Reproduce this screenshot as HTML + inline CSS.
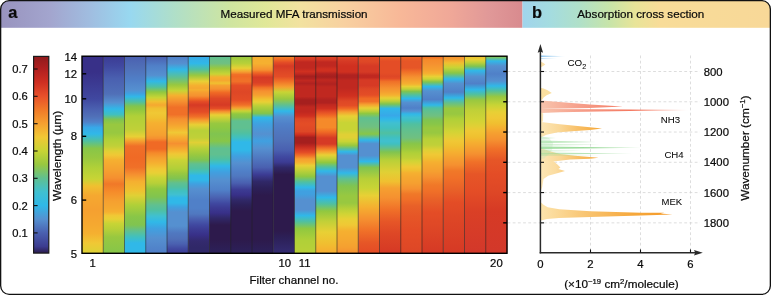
<!DOCTYPE html>
<html lang="en"><head><meta charset="utf-8"><title>Measured MFA transmission and absorption cross section</title>
<style>html,body{margin:0;padding:0;background:#fff}body{width:771px;height:295px;overflow:hidden}svg{display:block}text{font-family:"Liberation Sans",Arial,Helvetica,sans-serif;fill:#0a0a0a;stroke:#0a0a0a;stroke-width:0.22px}</style>
</head><body>
<svg width="771" height="295" viewBox="0 0 771 295">
<defs>
<linearGradient id="ha" gradientUnits="userSpaceOnUse" x1="0" y1="0" x2="523" y2="0">
<stop offset="0.0000" stop-color="#9893be"/>
<stop offset="0.0956" stop-color="#a3a5ce"/>
<stop offset="0.1721" stop-color="#a0bde0"/>
<stop offset="0.2486" stop-color="#98d8f0"/>
<stop offset="0.3346" stop-color="#b0dfc8"/>
<stop offset="0.4398" stop-color="#cfe5a0"/>
<stop offset="0.5067" stop-color="#e0e898"/>
<stop offset="0.5736" stop-color="#f2e2a0"/>
<stop offset="0.6597" stop-color="#f8d0a0"/>
<stop offset="0.7648" stop-color="#f8b898"/>
<stop offset="0.8604" stop-color="#f0a898"/>
<stop offset="0.9369" stop-color="#e09898"/>
<stop offset="1.0000" stop-color="#d88a8e"/>
</linearGradient>
<linearGradient id="hb" gradientUnits="userSpaceOnUse" x1="522.5" y1="0" x2="771" y2="0">
<stop offset="0.0000" stop-color="#a0d4ec"/>
<stop offset="0.1107" stop-color="#a4dce0"/>
<stop offset="0.2314" stop-color="#b0e0c8"/>
<stop offset="0.3521" stop-color="#c8e4a8"/>
<stop offset="0.4527" stop-color="#e8e498"/>
<stop offset="0.5533" stop-color="#f8dc98"/>
<stop offset="1.0000" stop-color="#f8d898"/>
</linearGradient>
<linearGradient id="cb" gradientUnits="userSpaceOnUse" x1="0" y1="56.0" x2="0" y2="253.3">
<stop offset="0.0000" stop-color="#8e1a1c"/>
<stop offset="0.0651" stop-color="#b02020"/>
<stop offset="0.1343" stop-color="#cf2f22"/>
<stop offset="0.2036" stop-color="#e8502a"/>
<stop offset="0.2729" stop-color="#f07a28"/>
<stop offset="0.3421" stop-color="#f5a030"/>
<stop offset="0.4114" stop-color="#f0c835"/>
<stop offset="0.4806" stop-color="#c8d435"/>
<stop offset="0.5499" stop-color="#98c840"/>
<stop offset="0.6191" stop-color="#60c090"/>
<stop offset="0.6884" stop-color="#40c0d0"/>
<stop offset="0.7576" stop-color="#30b8e8"/>
<stop offset="0.8269" stop-color="#5590d0"/>
<stop offset="0.8961" stop-color="#4a60b0"/>
<stop offset="0.9654" stop-color="#3c3c90"/>
<stop offset="1.0000" stop-color="#2a1a4a"/>
</linearGradient>
<linearGradient id="c1" gradientUnits="userSpaceOnUse" x1="0" y1="56.0" x2="0" y2="253.3">
<stop offset="0.0020" stop-color="#383088"/>
<stop offset="0.0811" stop-color="#383088"/>
<stop offset="0.1521" stop-color="#3c3c94"/>
<stop offset="0.2179" stop-color="#4048a0"/>
<stop offset="0.2686" stop-color="#4a60b0"/>
<stop offset="0.3066" stop-color="#5070b8"/>
<stop offset="0.3345" stop-color="#5080c8"/>
<stop offset="0.3624" stop-color="#38a8e8"/>
<stop offset="0.3953" stop-color="#30b8e8"/>
<stop offset="0.4308" stop-color="#50c0a0"/>
<stop offset="0.4683" stop-color="#88c648"/>
<stop offset="0.5170" stop-color="#98c840"/>
<stop offset="0.5646" stop-color="#b0d038"/>
<stop offset="0.6234" stop-color="#c8d435"/>
<stop offset="0.6589" stop-color="#f0c030"/>
<stop offset="0.7070" stop-color="#f5a830"/>
<stop offset="0.7790" stop-color="#f5a030"/>
<stop offset="0.8515" stop-color="#f5a830"/>
<stop offset="0.8991" stop-color="#f5b030"/>
<stop offset="0.9478" stop-color="#f0c835"/>
<stop offset="0.9883" stop-color="#e0d035"/>
</linearGradient>
<linearGradient id="c2" gradientUnits="userSpaceOnUse" x1="0" y1="56.0" x2="0" y2="253.3">
<stop offset="0.0020" stop-color="#3c3c94"/>
<stop offset="0.0502" stop-color="#4048a0"/>
<stop offset="0.1140" stop-color="#4a60b0"/>
<stop offset="0.1926" stop-color="#5070b8"/>
<stop offset="0.2357" stop-color="#5590d0"/>
<stop offset="0.2686" stop-color="#30b8e8"/>
<stop offset="0.2965" stop-color="#40c0c0"/>
<stop offset="0.3218" stop-color="#80c450"/>
<stop offset="0.3472" stop-color="#98c840"/>
<stop offset="0.3903" stop-color="#98c840"/>
<stop offset="0.4232" stop-color="#b0d038"/>
<stop offset="0.4562" stop-color="#c0d038"/>
<stop offset="0.4815" stop-color="#e0d035"/>
<stop offset="0.5018" stop-color="#f0c835"/>
<stop offset="0.5271" stop-color="#f5b030"/>
<stop offset="0.5778" stop-color="#f5a030"/>
<stop offset="0.6183" stop-color="#f59030"/>
<stop offset="0.6488" stop-color="#f07828"/>
<stop offset="0.6842" stop-color="#f58a2a"/>
<stop offset="0.7349" stop-color="#f5a030"/>
<stop offset="0.7704" stop-color="#f5a830"/>
<stop offset="0.7907" stop-color="#f5b030"/>
<stop offset="0.8084" stop-color="#f0c835"/>
<stop offset="0.8262" stop-color="#e8d035"/>
<stop offset="0.8490" stop-color="#c8d435"/>
<stop offset="0.8768" stop-color="#b8d038"/>
<stop offset="0.9174" stop-color="#98c840"/>
<stop offset="0.9883" stop-color="#88c648"/>
</linearGradient>
<linearGradient id="c3" gradientUnits="userSpaceOnUse" x1="0" y1="56.0" x2="0" y2="253.3">
<stop offset="0.0020" stop-color="#4a60b0"/>
<stop offset="0.0608" stop-color="#5070b8"/>
<stop offset="0.1216" stop-color="#5080c8"/>
<stop offset="0.1723" stop-color="#5590d0"/>
<stop offset="0.1901" stop-color="#40a0e0"/>
<stop offset="0.2063" stop-color="#30b8e8"/>
<stop offset="0.2331" stop-color="#50c0a0"/>
<stop offset="0.2534" stop-color="#80c450"/>
<stop offset="0.2712" stop-color="#90c840"/>
<stop offset="0.3041" stop-color="#b0d038"/>
<stop offset="0.3725" stop-color="#c0d038"/>
<stop offset="0.4085" stop-color="#e8d035"/>
<stop offset="0.4308" stop-color="#f5a030"/>
<stop offset="0.4562" stop-color="#f07028"/>
<stop offset="0.5170" stop-color="#f06a25"/>
<stop offset="0.5646" stop-color="#f07028"/>
<stop offset="0.6006" stop-color="#f59030"/>
<stop offset="0.6366" stop-color="#f5b030"/>
<stop offset="0.6792" stop-color="#f0c030"/>
<stop offset="0.7070" stop-color="#e0d035"/>
<stop offset="0.7552" stop-color="#b0d038"/>
<stop offset="0.8150" stop-color="#88c648"/>
<stop offset="0.8566" stop-color="#80c450"/>
<stop offset="0.8870" stop-color="#60c090"/>
<stop offset="0.9174" stop-color="#40c0c0"/>
<stop offset="0.9478" stop-color="#30b8e8"/>
<stop offset="0.9934" stop-color="#30b8e8"/>
</linearGradient>
<linearGradient id="c4" gradientUnits="userSpaceOnUse" x1="0" y1="56.0" x2="0" y2="253.3">
<stop offset="0.0020" stop-color="#4a60b0"/>
<stop offset="0.0502" stop-color="#5080c8"/>
<stop offset="0.0978" stop-color="#5590d0"/>
<stop offset="0.1282" stop-color="#30b8e8"/>
<stop offset="0.1571" stop-color="#50c0a0"/>
<stop offset="0.1825" stop-color="#90c840"/>
<stop offset="0.2103" stop-color="#c8d435"/>
<stop offset="0.2306" stop-color="#f0c030"/>
<stop offset="0.2484" stop-color="#f5a830"/>
<stop offset="0.2661" stop-color="#f0c030"/>
<stop offset="0.2889" stop-color="#f0c835"/>
<stop offset="0.3142" stop-color="#f0c030"/>
<stop offset="0.3396" stop-color="#f5b030"/>
<stop offset="0.3725" stop-color="#f5a830"/>
<stop offset="0.4004" stop-color="#f5a030"/>
<stop offset="0.4181" stop-color="#f59030"/>
<stop offset="0.4359" stop-color="#f06a25"/>
<stop offset="0.4714" stop-color="#f06a25"/>
<stop offset="0.4916" stop-color="#f58a2a"/>
<stop offset="0.5170" stop-color="#f5a030"/>
<stop offset="0.5423" stop-color="#f5b030"/>
<stop offset="0.5727" stop-color="#f0c835"/>
<stop offset="0.5930" stop-color="#e8d035"/>
<stop offset="0.6183" stop-color="#c8d435"/>
<stop offset="0.6437" stop-color="#b8d038"/>
<stop offset="0.6741" stop-color="#90c840"/>
<stop offset="0.7146" stop-color="#80c450"/>
<stop offset="0.7552" stop-color="#60c090"/>
<stop offset="0.7805" stop-color="#50c0a0"/>
<stop offset="0.8109" stop-color="#40c0d0"/>
<stop offset="0.8414" stop-color="#30b8e8"/>
<stop offset="0.8753" stop-color="#40a0e0"/>
<stop offset="0.9225" stop-color="#5590d0"/>
<stop offset="0.9883" stop-color="#5080c8"/>
</linearGradient>
<linearGradient id="c5" gradientUnits="userSpaceOnUse" x1="0" y1="56.0" x2="0" y2="253.3">
<stop offset="0.0020" stop-color="#5080c8"/>
<stop offset="0.0380" stop-color="#5590d0"/>
<stop offset="0.0679" stop-color="#30b8e8"/>
<stop offset="0.1100" stop-color="#60c090"/>
<stop offset="0.1460" stop-color="#98c840"/>
<stop offset="0.1759" stop-color="#c8d435"/>
<stop offset="0.2002" stop-color="#f5b030"/>
<stop offset="0.2301" stop-color="#f59030"/>
<stop offset="0.2600" stop-color="#f07028"/>
<stop offset="0.2965" stop-color="#f07028"/>
<stop offset="0.3193" stop-color="#f59030"/>
<stop offset="0.3447" stop-color="#f5a030"/>
<stop offset="0.3649" stop-color="#f5b030"/>
<stop offset="0.3877" stop-color="#f0c835"/>
<stop offset="0.4105" stop-color="#f5b030"/>
<stop offset="0.4283" stop-color="#f5a030"/>
<stop offset="0.4435" stop-color="#f59030"/>
<stop offset="0.4612" stop-color="#f5a030"/>
<stop offset="0.4764" stop-color="#f5b030"/>
<stop offset="0.4967" stop-color="#f0c835"/>
<stop offset="0.5144" stop-color="#e0d035"/>
<stop offset="0.5297" stop-color="#c8d435"/>
<stop offset="0.5474" stop-color="#c0d038"/>
<stop offset="0.5727" stop-color="#b0d038"/>
<stop offset="0.5955" stop-color="#98c840"/>
<stop offset="0.6209" stop-color="#80c450"/>
<stop offset="0.6437" stop-color="#60c090"/>
<stop offset="0.6640" stop-color="#50c0a0"/>
<stop offset="0.6842" stop-color="#40c0c0"/>
<stop offset="0.7020" stop-color="#40c0d0"/>
<stop offset="0.7197" stop-color="#30b8e8"/>
<stop offset="0.7451" stop-color="#30b8e8"/>
<stop offset="0.7653" stop-color="#40a0e0"/>
<stop offset="0.7907" stop-color="#5590d0"/>
<stop offset="0.8616" stop-color="#5590d0"/>
<stop offset="0.8971" stop-color="#5078c0"/>
<stop offset="0.9275" stop-color="#5070b8"/>
<stop offset="0.9529" stop-color="#4a60b0"/>
<stop offset="0.9782" stop-color="#4048a0"/>
<stop offset="1.0000" stop-color="#3c3c94"/>
</linearGradient>
<linearGradient id="c6" gradientUnits="userSpaceOnUse" x1="0" y1="56.0" x2="0" y2="253.3">
<stop offset="0.0020" stop-color="#38a8e8"/>
<stop offset="0.0380" stop-color="#30b8e8"/>
<stop offset="0.0679" stop-color="#50c0a0"/>
<stop offset="0.0978" stop-color="#98c840"/>
<stop offset="0.1282" stop-color="#e8d035"/>
<stop offset="0.1495" stop-color="#f5b030"/>
<stop offset="0.1637" stop-color="#f5a830"/>
<stop offset="0.1713" stop-color="#f5b030"/>
<stop offset="0.1825" stop-color="#f5a030"/>
<stop offset="0.2027" stop-color="#f59030"/>
<stop offset="0.2179" stop-color="#f06a25"/>
<stop offset="0.2306" stop-color="#e44d26"/>
<stop offset="0.2484" stop-color="#d63a25"/>
<stop offset="0.2686" stop-color="#de4726"/>
<stop offset="0.2838" stop-color="#e44d26"/>
<stop offset="0.3082" stop-color="#f07028"/>
<stop offset="0.3269" stop-color="#f5a030"/>
<stop offset="0.3482" stop-color="#e8d035"/>
<stop offset="0.3786" stop-color="#b8d038"/>
<stop offset="0.4146" stop-color="#c0d038"/>
<stop offset="0.4384" stop-color="#e0d035"/>
<stop offset="0.4683" stop-color="#b8d038"/>
<stop offset="0.5018" stop-color="#98c840"/>
<stop offset="0.5271" stop-color="#80c450"/>
<stop offset="0.5474" stop-color="#60c090"/>
<stop offset="0.5702" stop-color="#50c0a0"/>
<stop offset="0.5879" stop-color="#40c0c0"/>
<stop offset="0.6057" stop-color="#30b8e8"/>
<stop offset="0.6285" stop-color="#30b8e8"/>
<stop offset="0.6488" stop-color="#40a0e0"/>
<stop offset="0.6741" stop-color="#5590d0"/>
<stop offset="0.7299" stop-color="#5080c8"/>
<stop offset="0.7704" stop-color="#5080c8"/>
<stop offset="0.8008" stop-color="#5078c0"/>
<stop offset="0.8262" stop-color="#4a60b0"/>
<stop offset="0.8566" stop-color="#4048a0"/>
<stop offset="0.8794" stop-color="#3c3c94"/>
<stop offset="0.9072" stop-color="#383088"/>
<stop offset="0.9377" stop-color="#332a6e"/>
<stop offset="0.9681" stop-color="#302868"/>
<stop offset="1.0000" stop-color="#302868"/>
</linearGradient>
<linearGradient id="c7" gradientUnits="userSpaceOnUse" x1="0" y1="56.0" x2="0" y2="253.3">
<stop offset="0.0020" stop-color="#60c090"/>
<stop offset="0.0380" stop-color="#70c080"/>
<stop offset="0.0618" stop-color="#98c840"/>
<stop offset="0.0912" stop-color="#c8d435"/>
<stop offset="0.1075" stop-color="#f5b030"/>
<stop offset="0.1242" stop-color="#f5a830"/>
<stop offset="0.1379" stop-color="#f0c030"/>
<stop offset="0.1495" stop-color="#f5a030"/>
<stop offset="0.1673" stop-color="#f59030"/>
<stop offset="0.1850" stop-color="#f06a25"/>
<stop offset="0.2154" stop-color="#de4726"/>
<stop offset="0.2484" stop-color="#d63a25"/>
<stop offset="0.2661" stop-color="#e44d26"/>
<stop offset="0.2813" stop-color="#f59030"/>
<stop offset="0.2990" stop-color="#e8d035"/>
<stop offset="0.3193" stop-color="#c0d038"/>
<stop offset="0.3421" stop-color="#98c840"/>
<stop offset="0.3599" stop-color="#90c840"/>
<stop offset="0.3953" stop-color="#80c450"/>
<stop offset="0.4308" stop-color="#88c648"/>
<stop offset="0.4683" stop-color="#60c090"/>
<stop offset="0.4992" stop-color="#60c090"/>
<stop offset="0.5220" stop-color="#50c0a0"/>
<stop offset="0.5373" stop-color="#40c0c0"/>
<stop offset="0.5575" stop-color="#30b8e8"/>
<stop offset="0.5879" stop-color="#40a0e0"/>
<stop offset="0.6285" stop-color="#5590d0"/>
<stop offset="0.6792" stop-color="#5080c8"/>
<stop offset="0.7197" stop-color="#4a60b0"/>
<stop offset="0.7476" stop-color="#4048a0"/>
<stop offset="0.7679" stop-color="#3c3c94"/>
<stop offset="0.7957" stop-color="#383088"/>
<stop offset="0.8211" stop-color="#302868"/>
<stop offset="0.8566" stop-color="#2d1a4c"/>
<stop offset="0.9326" stop-color="#2d1a4c"/>
<stop offset="0.9883" stop-color="#2c2058"/>
</linearGradient>
<linearGradient id="c8" gradientUnits="userSpaceOnUse" x1="0" y1="56.0" x2="0" y2="253.3">
<stop offset="0.0020" stop-color="#98c840"/>
<stop offset="0.0380" stop-color="#b8d038"/>
<stop offset="0.0618" stop-color="#e8d035"/>
<stop offset="0.0801" stop-color="#f5a030"/>
<stop offset="0.0938" stop-color="#f07028"/>
<stop offset="0.1039" stop-color="#f06a25"/>
<stop offset="0.1166" stop-color="#f07028"/>
<stop offset="0.1292" stop-color="#f07028"/>
<stop offset="0.1495" stop-color="#e44d26"/>
<stop offset="0.1825" stop-color="#de4726"/>
<stop offset="0.2230" stop-color="#e44d26"/>
<stop offset="0.2484" stop-color="#f07028"/>
<stop offset="0.2636" stop-color="#f5a030"/>
<stop offset="0.2788" stop-color="#c8d435"/>
<stop offset="0.2940" stop-color="#90c840"/>
<stop offset="0.3117" stop-color="#80c450"/>
<stop offset="0.3294" stop-color="#60c090"/>
<stop offset="0.3649" stop-color="#60c090"/>
<stop offset="0.3903" stop-color="#50c0a0"/>
<stop offset="0.4131" stop-color="#40c0c0"/>
<stop offset="0.4359" stop-color="#30b8e8"/>
<stop offset="0.4764" stop-color="#30b8e8"/>
<stop offset="0.5068" stop-color="#40a0e0"/>
<stop offset="0.5423" stop-color="#5590d0"/>
<stop offset="0.5829" stop-color="#5080c8"/>
<stop offset="0.6082" stop-color="#5078c0"/>
<stop offset="0.6437" stop-color="#4a60b0"/>
<stop offset="0.6766" stop-color="#3c3c94"/>
<stop offset="0.7045" stop-color="#383088"/>
<stop offset="0.7299" stop-color="#302868"/>
<stop offset="0.7552" stop-color="#2c2058"/>
<stop offset="0.7856" stop-color="#2d1a4c"/>
<stop offset="0.9326" stop-color="#2d1a4c"/>
<stop offset="0.9883" stop-color="#2c2058"/>
</linearGradient>
<linearGradient id="c9" gradientUnits="userSpaceOnUse" x1="0" y1="56.0" x2="0" y2="253.3">
<stop offset="0.0020" stop-color="#f5b030"/>
<stop offset="0.0380" stop-color="#f5b030"/>
<stop offset="0.0558" stop-color="#f5a030"/>
<stop offset="0.0710" stop-color="#f59030"/>
<stop offset="0.0836" stop-color="#f06a25"/>
<stop offset="0.0963" stop-color="#e44d26"/>
<stop offset="0.1075" stop-color="#d63a25"/>
<stop offset="0.1343" stop-color="#da4026"/>
<stop offset="0.1470" stop-color="#e44d26"/>
<stop offset="0.1597" stop-color="#f07028"/>
<stop offset="0.1774" stop-color="#f59030"/>
<stop offset="0.1977" stop-color="#f5a030"/>
<stop offset="0.2179" stop-color="#f0c030"/>
<stop offset="0.2331" stop-color="#e8d035"/>
<stop offset="0.2534" stop-color="#b8d038"/>
<stop offset="0.2762" stop-color="#98c840"/>
<stop offset="0.2914" stop-color="#80c450"/>
<stop offset="0.3117" stop-color="#30b8e8"/>
<stop offset="0.3447" stop-color="#40a0e0"/>
<stop offset="0.3953" stop-color="#5590d0"/>
<stop offset="0.4308" stop-color="#40a0e0"/>
<stop offset="0.4683" stop-color="#5590d0"/>
<stop offset="0.5170" stop-color="#5078c0"/>
<stop offset="0.5646" stop-color="#4a60b0"/>
<stop offset="0.6006" stop-color="#3c3c94"/>
<stop offset="0.6366" stop-color="#302868"/>
<stop offset="0.6690" stop-color="#2c2058"/>
<stop offset="0.7070" stop-color="#2d1a4c"/>
<stop offset="0.9326" stop-color="#2d1a4c"/>
<stop offset="0.9883" stop-color="#2c2058"/>
</linearGradient>
<linearGradient id="c10" gradientUnits="userSpaceOnUse" x1="0" y1="56.0" x2="0" y2="253.3">
<stop offset="0.0020" stop-color="#f58a2a"/>
<stop offset="0.0177" stop-color="#f06a25"/>
<stop offset="0.0329" stop-color="#e44d26"/>
<stop offset="0.0507" stop-color="#d63a25"/>
<stop offset="0.0801" stop-color="#de4726"/>
<stop offset="0.1039" stop-color="#e44d26"/>
<stop offset="0.1282" stop-color="#f07028"/>
<stop offset="0.1571" stop-color="#f5a030"/>
<stop offset="0.1825" stop-color="#c8d435"/>
<stop offset="0.2179" stop-color="#98c840"/>
<stop offset="0.2484" stop-color="#60c090"/>
<stop offset="0.2788" stop-color="#30b8e8"/>
<stop offset="0.3082" stop-color="#5590d0"/>
<stop offset="0.3447" stop-color="#5080c8"/>
<stop offset="0.3801" stop-color="#5078c0"/>
<stop offset="0.4257" stop-color="#5070b8"/>
<stop offset="0.4764" stop-color="#4a60b0"/>
<stop offset="0.5119" stop-color="#4048a0"/>
<stop offset="0.5373" stop-color="#3c3c94"/>
<stop offset="0.5646" stop-color="#302868"/>
<stop offset="0.6006" stop-color="#2d1a4c"/>
<stop offset="0.8870" stop-color="#2d1a4c"/>
<stop offset="0.9225" stop-color="#2c2058"/>
<stop offset="0.9883" stop-color="#332a6e"/>
</linearGradient>
<linearGradient id="c11" gradientUnits="userSpaceOnUse" x1="0" y1="56.0" x2="0" y2="253.3">
<stop offset="0.0020" stop-color="#de4726"/>
<stop offset="0.0177" stop-color="#d63a25"/>
<stop offset="0.0304" stop-color="#c02820"/>
<stop offset="0.0608" stop-color="#c02820"/>
<stop offset="0.0786" stop-color="#d03020"/>
<stop offset="0.0912" stop-color="#c02820"/>
<stop offset="0.1029" stop-color="#a51f1e"/>
<stop offset="0.1140" stop-color="#b02220"/>
<stop offset="0.1242" stop-color="#c02820"/>
<stop offset="0.1394" stop-color="#b02220"/>
<stop offset="0.1546" stop-color="#c02820"/>
<stop offset="0.2053" stop-color="#c02820"/>
<stop offset="0.2230" stop-color="#a51f1e"/>
<stop offset="0.2423" stop-color="#a51f1e"/>
<stop offset="0.2585" stop-color="#c02820"/>
<stop offset="0.2838" stop-color="#c02820"/>
<stop offset="0.3041" stop-color="#d03020"/>
<stop offset="0.3193" stop-color="#de4726"/>
<stop offset="0.3447" stop-color="#e44d26"/>
<stop offset="0.3827" stop-color="#de4726"/>
<stop offset="0.3979" stop-color="#d03020"/>
<stop offset="0.4131" stop-color="#a51f1e"/>
<stop offset="0.4410" stop-color="#a51f1e"/>
<stop offset="0.4562" stop-color="#c02820"/>
<stop offset="0.4739" stop-color="#d63a25"/>
<stop offset="0.4891" stop-color="#e44d26"/>
<stop offset="0.5043" stop-color="#f07028"/>
<stop offset="0.5220" stop-color="#f5a030"/>
<stop offset="0.5388" stop-color="#f5b030"/>
<stop offset="0.5555" stop-color="#e8d035"/>
<stop offset="0.5793" stop-color="#c0d038"/>
<stop offset="0.6102" stop-color="#90c840"/>
<stop offset="0.6381" stop-color="#50c0a0"/>
<stop offset="0.6655" stop-color="#30b8e8"/>
<stop offset="0.6842" stop-color="#40a0e0"/>
<stop offset="0.6994" stop-color="#40a0e0"/>
<stop offset="0.7299" stop-color="#5590d0"/>
<stop offset="0.7790" stop-color="#5590d0"/>
<stop offset="0.8089" stop-color="#30b8e8"/>
<stop offset="0.8393" stop-color="#50c0a0"/>
<stop offset="0.8753" stop-color="#90c840"/>
<stop offset="0.9351" stop-color="#b0d038"/>
<stop offset="0.9883" stop-color="#b8d038"/>
</linearGradient>
<linearGradient id="c12" gradientUnits="userSpaceOnUse" x1="0" y1="56.0" x2="0" y2="253.3">
<stop offset="0.0020" stop-color="#de4726"/>
<stop offset="0.0177" stop-color="#d63a25"/>
<stop offset="0.0304" stop-color="#c02820"/>
<stop offset="0.0507" stop-color="#c02820"/>
<stop offset="0.0659" stop-color="#d03020"/>
<stop offset="0.0760" stop-color="#d03020"/>
<stop offset="0.0912" stop-color="#b02220"/>
<stop offset="0.1064" stop-color="#a51f1e"/>
<stop offset="0.1216" stop-color="#c02820"/>
<stop offset="0.1419" stop-color="#b02220"/>
<stop offset="0.1571" stop-color="#c02820"/>
<stop offset="0.2053" stop-color="#c02820"/>
<stop offset="0.2230" stop-color="#b02220"/>
<stop offset="0.2382" stop-color="#b02220"/>
<stop offset="0.2458" stop-color="#c02820"/>
<stop offset="0.2661" stop-color="#d03020"/>
<stop offset="0.2838" stop-color="#e44d26"/>
<stop offset="0.3016" stop-color="#f06a25"/>
<stop offset="0.3193" stop-color="#f58a2a"/>
<stop offset="0.3624" stop-color="#f58a2a"/>
<stop offset="0.3852" stop-color="#f06a25"/>
<stop offset="0.4156" stop-color="#d63a25"/>
<stop offset="0.4460" stop-color="#d63a25"/>
<stop offset="0.4663" stop-color="#f07028"/>
<stop offset="0.4840" stop-color="#f5a030"/>
<stop offset="0.5018" stop-color="#e8d035"/>
<stop offset="0.5195" stop-color="#c0d038"/>
<stop offset="0.5398" stop-color="#90c840"/>
<stop offset="0.5626" stop-color="#50c0a0"/>
<stop offset="0.5829" stop-color="#30b8e8"/>
<stop offset="0.6107" stop-color="#5590d0"/>
<stop offset="0.6842" stop-color="#5590d0"/>
<stop offset="0.7172" stop-color="#30b8e8"/>
<stop offset="0.7501" stop-color="#50c0a0"/>
<stop offset="0.7856" stop-color="#90c840"/>
<stop offset="0.8363" stop-color="#c0d038"/>
<stop offset="0.8920" stop-color="#e8d035"/>
<stop offset="0.9478" stop-color="#f0c030"/>
<stop offset="0.9883" stop-color="#f5b030"/>
</linearGradient>
<linearGradient id="c13" gradientUnits="userSpaceOnUse" x1="0" y1="56.0" x2="0" y2="253.3">
<stop offset="0.0020" stop-color="#e44d26"/>
<stop offset="0.0253" stop-color="#d63a25"/>
<stop offset="0.0507" stop-color="#d03020"/>
<stop offset="0.0811" stop-color="#d03020"/>
<stop offset="0.0963" stop-color="#b02220"/>
<stop offset="0.1090" stop-color="#b02220"/>
<stop offset="0.1242" stop-color="#c02820"/>
<stop offset="0.1622" stop-color="#c02820"/>
<stop offset="0.2027" stop-color="#d03020"/>
<stop offset="0.2281" stop-color="#de4726"/>
<stop offset="0.2509" stop-color="#e44d26"/>
<stop offset="0.2661" stop-color="#f06a25"/>
<stop offset="0.2838" stop-color="#f5a030"/>
<stop offset="0.3041" stop-color="#e8d035"/>
<stop offset="0.3381" stop-color="#c8d435"/>
<stop offset="0.3751" stop-color="#c8d435"/>
<stop offset="0.3979" stop-color="#e0d035"/>
<stop offset="0.4131" stop-color="#e0d035"/>
<stop offset="0.4334" stop-color="#c8d435"/>
<stop offset="0.4536" stop-color="#98c840"/>
<stop offset="0.4688" stop-color="#60c090"/>
<stop offset="0.4850" stop-color="#30b8e8"/>
<stop offset="0.5043" stop-color="#5590d0"/>
<stop offset="0.5646" stop-color="#5590d0"/>
<stop offset="0.5930" stop-color="#30b8e8"/>
<stop offset="0.6234" stop-color="#60c090"/>
<stop offset="0.6589" stop-color="#80c450"/>
<stop offset="0.7096" stop-color="#98c840"/>
<stop offset="0.7451" stop-color="#98c840"/>
<stop offset="0.7755" stop-color="#b8d038"/>
<stop offset="0.8008" stop-color="#d0d435"/>
<stop offset="0.8262" stop-color="#e8d035"/>
<stop offset="0.8566" stop-color="#f0c835"/>
<stop offset="0.8870" stop-color="#f5b030"/>
<stop offset="0.9326" stop-color="#f5a830"/>
<stop offset="0.9681" stop-color="#f5a030"/>
<stop offset="1.0000" stop-color="#f59030"/>
</linearGradient>
<linearGradient id="c14" gradientUnits="userSpaceOnUse" x1="0" y1="56.0" x2="0" y2="253.3">
<stop offset="0.0020" stop-color="#e44d26"/>
<stop offset="0.0304" stop-color="#de4726"/>
<stop offset="0.0507" stop-color="#d63a25"/>
<stop offset="0.0811" stop-color="#d63a25"/>
<stop offset="0.0978" stop-color="#c02820"/>
<stop offset="0.1085" stop-color="#c02820"/>
<stop offset="0.1216" stop-color="#d63a25"/>
<stop offset="0.1495" stop-color="#d63a25"/>
<stop offset="0.1673" stop-color="#de4726"/>
<stop offset="0.1977" stop-color="#e44d26"/>
<stop offset="0.2154" stop-color="#f06a25"/>
<stop offset="0.2306" stop-color="#f07028"/>
<stop offset="0.2458" stop-color="#f5a030"/>
<stop offset="0.2636" stop-color="#e8d035"/>
<stop offset="0.2788" stop-color="#c0d038"/>
<stop offset="0.2914" stop-color="#90c840"/>
<stop offset="0.3142" stop-color="#60c090"/>
<stop offset="0.3599" stop-color="#70c080"/>
<stop offset="0.3953" stop-color="#88c648"/>
<stop offset="0.4257" stop-color="#30b8e8"/>
<stop offset="0.4445" stop-color="#5590d0"/>
<stop offset="0.5043" stop-color="#5590d0"/>
<stop offset="0.5347" stop-color="#30b8e8"/>
<stop offset="0.5646" stop-color="#80c450"/>
<stop offset="0.6234" stop-color="#b8d038"/>
<stop offset="0.6690" stop-color="#c8d435"/>
<stop offset="0.7070" stop-color="#e8d035"/>
<stop offset="0.7653" stop-color="#f5b030"/>
<stop offset="0.8262" stop-color="#f59030"/>
<stop offset="0.8870" stop-color="#f07028"/>
<stop offset="0.9478" stop-color="#e65627"/>
<stop offset="0.9883" stop-color="#e44d26"/>
</linearGradient>
<linearGradient id="c15" gradientUnits="userSpaceOnUse" x1="0" y1="56.0" x2="0" y2="253.3">
<stop offset="0.0020" stop-color="#f06a25"/>
<stop offset="0.0253" stop-color="#e44d26"/>
<stop offset="0.0862" stop-color="#e44d26"/>
<stop offset="0.1029" stop-color="#de4726"/>
<stop offset="0.1140" stop-color="#e44d26"/>
<stop offset="0.1292" stop-color="#f07028"/>
<stop offset="0.1622" stop-color="#f59030"/>
<stop offset="0.1825" stop-color="#f5a030"/>
<stop offset="0.1977" stop-color="#f5b030"/>
<stop offset="0.2129" stop-color="#e8d035"/>
<stop offset="0.2281" stop-color="#c0d038"/>
<stop offset="0.2433" stop-color="#80c450"/>
<stop offset="0.2661" stop-color="#30b8e8"/>
<stop offset="0.3021" stop-color="#38a8e8"/>
<stop offset="0.3193" stop-color="#30b8e8"/>
<stop offset="0.3396" stop-color="#40c0d0"/>
<stop offset="0.3649" stop-color="#40c0c0"/>
<stop offset="0.3903" stop-color="#50c0a0"/>
<stop offset="0.4131" stop-color="#40c0c0"/>
<stop offset="0.4308" stop-color="#40c0d0"/>
<stop offset="0.4460" stop-color="#40c0c0"/>
<stop offset="0.4663" stop-color="#60c090"/>
<stop offset="0.4866" stop-color="#80c450"/>
<stop offset="0.5271" stop-color="#b8d038"/>
<stop offset="0.5879" stop-color="#e0d035"/>
<stop offset="0.6366" stop-color="#f0c030"/>
<stop offset="0.6690" stop-color="#f5a030"/>
<stop offset="0.7197" stop-color="#f59030"/>
<stop offset="0.7790" stop-color="#f07028"/>
<stop offset="0.8393" stop-color="#e65627"/>
<stop offset="0.8991" stop-color="#de4726"/>
<stop offset="0.9883" stop-color="#d63a25"/>
</linearGradient>
<linearGradient id="c16" gradientUnits="userSpaceOnUse" x1="0" y1="56.0" x2="0" y2="253.3">
<stop offset="0.0020" stop-color="#f06a25"/>
<stop offset="0.0253" stop-color="#e65627"/>
<stop offset="0.0608" stop-color="#e65627"/>
<stop offset="0.0811" stop-color="#f07028"/>
<stop offset="0.1064" stop-color="#f59030"/>
<stop offset="0.1242" stop-color="#f5a030"/>
<stop offset="0.1419" stop-color="#f5b030"/>
<stop offset="0.1546" stop-color="#e8d035"/>
<stop offset="0.1673" stop-color="#c0d038"/>
<stop offset="0.1799" stop-color="#80c450"/>
<stop offset="0.1977" stop-color="#50c0a0"/>
<stop offset="0.2154" stop-color="#30b8e8"/>
<stop offset="0.2357" stop-color="#5590d0"/>
<stop offset="0.2636" stop-color="#5080c8"/>
<stop offset="0.2788" stop-color="#5590d0"/>
<stop offset="0.2940" stop-color="#30b8e8"/>
<stop offset="0.3117" stop-color="#40c0d0"/>
<stop offset="0.3269" stop-color="#40c0c0"/>
<stop offset="0.3447" stop-color="#50c0a0"/>
<stop offset="0.3725" stop-color="#60c090"/>
<stop offset="0.4156" stop-color="#70c080"/>
<stop offset="0.4445" stop-color="#88c648"/>
<stop offset="0.4663" stop-color="#98c840"/>
<stop offset="0.4916" stop-color="#b0d038"/>
<stop offset="0.5170" stop-color="#c0d038"/>
<stop offset="0.5322" stop-color="#d0d435"/>
<stop offset="0.5474" stop-color="#e0d035"/>
<stop offset="0.5626" stop-color="#f0c835"/>
<stop offset="0.5778" stop-color="#f0c030"/>
<stop offset="0.5930" stop-color="#f5b030"/>
<stop offset="0.6133" stop-color="#f5a830"/>
<stop offset="0.6437" stop-color="#f5a030"/>
<stop offset="0.6741" stop-color="#f59030"/>
<stop offset="0.6994" stop-color="#f07828"/>
<stop offset="0.7248" stop-color="#f07028"/>
<stop offset="0.7603" stop-color="#e86028"/>
<stop offset="0.8109" stop-color="#e65627"/>
<stop offset="0.8819" stop-color="#e44d26"/>
<stop offset="0.9883" stop-color="#de4726"/>
</linearGradient>
<linearGradient id="c17" gradientUnits="userSpaceOnUse" x1="0" y1="56.0" x2="0" y2="253.3">
<stop offset="0.0020" stop-color="#f06a25"/>
<stop offset="0.0177" stop-color="#f58a2a"/>
<stop offset="0.0380" stop-color="#f59030"/>
<stop offset="0.0710" stop-color="#f5a030"/>
<stop offset="0.0887" stop-color="#f5b030"/>
<stop offset="0.1039" stop-color="#e8d035"/>
<stop offset="0.1166" stop-color="#c8d435"/>
<stop offset="0.1318" stop-color="#80c450"/>
<stop offset="0.1546" stop-color="#30b8e8"/>
<stop offset="0.1774" stop-color="#5590d0"/>
<stop offset="0.2205" stop-color="#5080c8"/>
<stop offset="0.2484" stop-color="#30b8e8"/>
<stop offset="0.2636" stop-color="#50c0a0"/>
<stop offset="0.2788" stop-color="#60c090"/>
<stop offset="0.3041" stop-color="#70c080"/>
<stop offset="0.3244" stop-color="#80c450"/>
<stop offset="0.3447" stop-color="#88c648"/>
<stop offset="0.3649" stop-color="#98c840"/>
<stop offset="0.3903" stop-color="#98c840"/>
<stop offset="0.4207" stop-color="#b8d038"/>
<stop offset="0.4511" stop-color="#c0d038"/>
<stop offset="0.4764" stop-color="#e0d035"/>
<stop offset="0.4992" stop-color="#f0c835"/>
<stop offset="0.5170" stop-color="#f0c030"/>
<stop offset="0.5373" stop-color="#f5b030"/>
<stop offset="0.5575" stop-color="#f5a830"/>
<stop offset="0.5829" stop-color="#f5a030"/>
<stop offset="0.6133" stop-color="#f59030"/>
<stop offset="0.6538" stop-color="#f07828"/>
<stop offset="0.6842" stop-color="#f07028"/>
<stop offset="0.7299" stop-color="#e86028"/>
<stop offset="0.7907" stop-color="#e44d26"/>
<stop offset="0.8718" stop-color="#de4726"/>
<stop offset="0.9883" stop-color="#d63a25"/>
</linearGradient>
<linearGradient id="c18" gradientUnits="userSpaceOnUse" x1="0" y1="56.0" x2="0" y2="253.3">
<stop offset="0.0020" stop-color="#f59030"/>
<stop offset="0.0177" stop-color="#f5a030"/>
<stop offset="0.0355" stop-color="#f0c030"/>
<stop offset="0.0583" stop-color="#c8d435"/>
<stop offset="0.0862" stop-color="#88c648"/>
<stop offset="0.1166" stop-color="#30b8e8"/>
<stop offset="0.1399" stop-color="#5590d0"/>
<stop offset="0.1825" stop-color="#5080c8"/>
<stop offset="0.2124" stop-color="#30b8e8"/>
<stop offset="0.2362" stop-color="#60c090"/>
<stop offset="0.2661" stop-color="#98c840"/>
<stop offset="0.2940" stop-color="#98c840"/>
<stop offset="0.3193" stop-color="#b0d038"/>
<stop offset="0.3548" stop-color="#c0d038"/>
<stop offset="0.3801" stop-color="#d0d435"/>
<stop offset="0.4055" stop-color="#e0d035"/>
<stop offset="0.4308" stop-color="#f0c835"/>
<stop offset="0.4562" stop-color="#f0c030"/>
<stop offset="0.4866" stop-color="#f5b030"/>
<stop offset="0.5170" stop-color="#f5a030"/>
<stop offset="0.5525" stop-color="#f59030"/>
<stop offset="0.5829" stop-color="#f07828"/>
<stop offset="0.6183" stop-color="#f07028"/>
<stop offset="0.6792" stop-color="#e86028"/>
<stop offset="0.7400" stop-color="#e44d26"/>
<stop offset="0.8109" stop-color="#de4726"/>
<stop offset="0.9883" stop-color="#d63a25"/>
</linearGradient>
<linearGradient id="c19" gradientUnits="userSpaceOnUse" x1="0" y1="56.0" x2="0" y2="253.3">
<stop offset="0.0020" stop-color="#f0c030"/>
<stop offset="0.0177" stop-color="#e8d035"/>
<stop offset="0.0329" stop-color="#c0d038"/>
<stop offset="0.0522" stop-color="#80c450"/>
<stop offset="0.0740" stop-color="#30b8e8"/>
<stop offset="0.1039" stop-color="#5590d0"/>
<stop offset="0.1399" stop-color="#5080c8"/>
<stop offset="0.1703" stop-color="#30b8e8"/>
<stop offset="0.1941" stop-color="#50c0a0"/>
<stop offset="0.2230" stop-color="#98c840"/>
<stop offset="0.2737" stop-color="#c0d038"/>
<stop offset="0.3244" stop-color="#d0d435"/>
<stop offset="0.3548" stop-color="#e0d035"/>
<stop offset="0.3801" stop-color="#f0c835"/>
<stop offset="0.4105" stop-color="#f0c030"/>
<stop offset="0.4359" stop-color="#f5b030"/>
<stop offset="0.4663" stop-color="#f5a030"/>
<stop offset="0.4967" stop-color="#f59030"/>
<stop offset="0.5373" stop-color="#f07028"/>
<stop offset="0.5981" stop-color="#e65627"/>
<stop offset="0.6893" stop-color="#e44d26"/>
<stop offset="0.7856" stop-color="#da4026"/>
<stop offset="0.9883" stop-color="#d3382a"/>
</linearGradient>
<linearGradient id="c20" gradientUnits="userSpaceOnUse" x1="0" y1="56.0" x2="0" y2="253.3">
<stop offset="0.0020" stop-color="#90c840"/>
<stop offset="0.0253" stop-color="#30b8e8"/>
<stop offset="0.0502" stop-color="#5590d0"/>
<stop offset="0.0912" stop-color="#5080c8"/>
<stop offset="0.1267" stop-color="#5590d0"/>
<stop offset="0.1521" stop-color="#30b8e8"/>
<stop offset="0.1759" stop-color="#50c0a0"/>
<stop offset="0.2063" stop-color="#98c840"/>
<stop offset="0.2484" stop-color="#c8d435"/>
<stop offset="0.2838" stop-color="#e8d035"/>
<stop offset="0.3142" stop-color="#f0c835"/>
<stop offset="0.3396" stop-color="#f0c030"/>
<stop offset="0.3649" stop-color="#f5b030"/>
<stop offset="0.3903" stop-color="#f5a030"/>
<stop offset="0.4257" stop-color="#f59030"/>
<stop offset="0.4714" stop-color="#f07028"/>
<stop offset="0.5271" stop-color="#e65627"/>
<stop offset="0.5981" stop-color="#e44d26"/>
<stop offset="0.6893" stop-color="#de4726"/>
<stop offset="0.7856" stop-color="#d63a25"/>
<stop offset="0.9883" stop-color="#d3382a"/>
</linearGradient>
<linearGradient id="gN" gradientUnits="userSpaceOnUse" x1="541" y1="0" x2="690" y2="0">
<stop offset="0" stop-color="#f8c4ac" stop-opacity="1"/>
<stop offset="0.25" stop-color="#f6a08c" stop-opacity="1"/>
<stop offset="0.6" stop-color="#f47860" stop-opacity="1"/>
<stop offset="0.9" stop-color="#f47860" stop-opacity="0.6"/>
<stop offset="1" stop-color="#f47860" stop-opacity="0.1"/>
</linearGradient>
<linearGradient id="gM" gradientUnits="userSpaceOnUse" x1="541" y1="0" x2="672" y2="0">
<stop offset="0" stop-color="#fce4ac" stop-opacity="1"/>
<stop offset="0.3" stop-color="#f9c878" stop-opacity="1"/>
<stop offset="0.7" stop-color="#f6a83c" stop-opacity="1"/>
<stop offset="1" stop-color="#f59a28" stop-opacity="1"/>
</linearGradient>
<linearGradient id="gM2" gradientUnits="userSpaceOnUse" x1="541" y1="0" x2="602" y2="0">
<stop offset="0" stop-color="#fce6b4" stop-opacity="1"/>
<stop offset="0.3" stop-color="#fad898" stop-opacity="1"/>
<stop offset="0.65" stop-color="#f8bc60" stop-opacity="1"/>
<stop offset="1" stop-color="#f5a636" stop-opacity="1"/>
</linearGradient>
<linearGradient id="gM3" gradientUnits="userSpaceOnUse" x1="541" y1="0" x2="566" y2="0">
<stop offset="0" stop-color="#fce6b4" stop-opacity="1"/>
<stop offset="0.6" stop-color="#fbdca0" stop-opacity="1"/>
<stop offset="1" stop-color="#f9cc80" stop-opacity="1"/>
</linearGradient>
<linearGradient id="gC" gradientUnits="userSpaceOnUse" x1="541" y1="0" x2="566" y2="0">
<stop offset="0" stop-color="#8cc4ee" stop-opacity="1"/>
<stop offset="0.6" stop-color="#a4d2f2" stop-opacity="0.8"/>
<stop offset="1" stop-color="#a4d2f2" stop-opacity="0.1"/>
</linearGradient>
<linearGradient id="gG" gradientUnits="userSpaceOnUse" x1="541" y1="0" x2="640" y2="0">
<stop offset="0" stop-color="#98dc98" stop-opacity="0.9"/>
<stop offset="0.5" stop-color="#80d080" stop-opacity="0.9"/>
<stop offset="1" stop-color="#80d080" stop-opacity="0.5"/>
</linearGradient>
<clipPath id="hc"><rect x="0.65" y="0.65" width="769.7" height="293.7" rx="8.5" ry="8.5"/></clipPath>
</defs>
<rect x="0" y="0" width="771" height="295" fill="#fff"/>
<g clip-path="url(#hc)">
<rect x="0" y="0" width="522.5" height="27.8" fill="url(#ha)"/>
<rect x="522.5" y="0" width="249" height="27.8" fill="url(#hb)"/>
</g>
<rect x="0.65" y="0.65" width="769.7" height="293.7" rx="8.5" ry="8.5" fill="none" stroke="#111" stroke-width="1.3"/>
<text x="8.3" y="17.5" font-size="16.4" font-weight="bold">a</text>
<text x="532.0" y="17.5" font-size="16.4" font-weight="bold">b</text>
<text x="220.6" y="17.7" font-size="11.6" textLength="147" lengthAdjust="spacingAndGlyphs">Measured MFA transmission</text>
<text x="577.3" y="17.7" font-size="11.6" textLength="127" lengthAdjust="spacingAndGlyphs">Absorption cross section</text>
<g stroke="#d2d2d2" stroke-width="0.75" stroke-dasharray="2.8 2.4" fill="none">
<path d="M507.5 71.50H700"/>
<path d="M507.5 101.77H700"/>
<path d="M507.5 132.04H700"/>
<path d="M507.5 162.31H700"/>
<path d="M507.5 192.58H700"/>
<path d="M507.5 222.85H700"/>
<path d="M590.5 55.5V252.5"/>
<path d="M640.5 55.5V252.5"/>
<path d="M690.5 55.5V252.5"/>
</g>
<rect x="33.6" y="56.4" width="15.2" height="196.70" fill="url(#cb)" stroke="#1a1a1a" stroke-width="1.2"/>
<g stroke="#111" stroke-width="1.1">
<path d="M34 69.0H37.6"/>
<path d="M34 96.3H37.6"/>
<path d="M34 123.7H37.6"/>
<path d="M34 151.0H37.6"/>
<path d="M34 178.3H37.6"/>
<path d="M34 205.6H37.6"/>
<path d="M34 232.9H37.6"/>
</g>
<text x="12.2" y="72.9" font-size="11.3" textLength="15.6" lengthAdjust="spacingAndGlyphs">0.7</text>
<text x="12.2" y="100.2" font-size="11.3" textLength="15.6" lengthAdjust="spacingAndGlyphs">0.6</text>
<text x="12.2" y="127.6" font-size="11.3" textLength="15.6" lengthAdjust="spacingAndGlyphs">0.5</text>
<text x="12.2" y="154.9" font-size="11.3" textLength="15.6" lengthAdjust="spacingAndGlyphs">0.4</text>
<text x="12.2" y="182.2" font-size="11.3" textLength="15.6" lengthAdjust="spacingAndGlyphs">0.3</text>
<text x="12.2" y="209.5" font-size="11.3" textLength="15.6" lengthAdjust="spacingAndGlyphs">0.2</text>
<text x="12.2" y="236.8" font-size="11.3" textLength="15.6" lengthAdjust="spacingAndGlyphs">0.1</text>
<rect x="82.00" y="56.0" width="21.55" height="197.30" fill="url(#c1)"/>
<rect x="103.25" y="56.0" width="21.55" height="197.30" fill="url(#c2)"/>
<rect x="124.50" y="56.0" width="21.55" height="197.30" fill="url(#c3)"/>
<rect x="145.75" y="56.0" width="21.55" height="197.30" fill="url(#c4)"/>
<rect x="167.00" y="56.0" width="21.55" height="197.30" fill="url(#c5)"/>
<rect x="188.25" y="56.0" width="21.55" height="197.30" fill="url(#c6)"/>
<rect x="209.50" y="56.0" width="21.55" height="197.30" fill="url(#c7)"/>
<rect x="230.75" y="56.0" width="21.55" height="197.30" fill="url(#c8)"/>
<rect x="252.00" y="56.0" width="21.55" height="197.30" fill="url(#c9)"/>
<rect x="273.25" y="56.0" width="21.55" height="197.30" fill="url(#c10)"/>
<rect x="294.50" y="56.0" width="21.55" height="197.30" fill="url(#c11)"/>
<rect x="315.75" y="56.0" width="21.55" height="197.30" fill="url(#c12)"/>
<rect x="337.00" y="56.0" width="21.55" height="197.30" fill="url(#c13)"/>
<rect x="358.25" y="56.0" width="21.55" height="197.30" fill="url(#c14)"/>
<rect x="379.50" y="56.0" width="21.55" height="197.30" fill="url(#c15)"/>
<rect x="400.75" y="56.0" width="21.55" height="197.30" fill="url(#c16)"/>
<rect x="422.00" y="56.0" width="21.55" height="197.30" fill="url(#c17)"/>
<rect x="443.25" y="56.0" width="21.55" height="197.30" fill="url(#c18)"/>
<rect x="464.50" y="56.0" width="21.55" height="197.30" fill="url(#c19)"/>
<rect x="485.75" y="56.0" width="21.55" height="197.30" fill="url(#c20)"/>
<g stroke="#222" stroke-opacity="0.62" stroke-width="0.9">
<path d="M103.25 56.0V253.3"/>
<path d="M124.50 56.0V253.3"/>
<path d="M145.75 56.0V253.3"/>
<path d="M167.00 56.0V253.3"/>
<path d="M188.25 56.0V253.3"/>
<path d="M209.50 56.0V253.3"/>
<path d="M230.75 56.0V253.3"/>
<path d="M252.00 56.0V253.3"/>
<path d="M273.25 56.0V253.3"/>
<path d="M294.50 56.0V253.3"/>
<path d="M315.75 56.0V253.3"/>
<path d="M337.00 56.0V253.3"/>
<path d="M358.25 56.0V253.3"/>
<path d="M379.50 56.0V253.3"/>
<path d="M400.75 56.0V253.3"/>
<path d="M422.00 56.0V253.3"/>
<path d="M443.25 56.0V253.3"/>
<path d="M464.50 56.0V253.3"/>
<path d="M485.75 56.0V253.3"/>
</g>
<rect x="82.0" y="56.2" width="425.0" height="197.10" fill="none" stroke="#000" stroke-width="1.4"/>
<g stroke="#000" stroke-width="1.4">
<path d="M82.0 73.8H86.2"/>
<path d="M82.0 98.8H86.2"/>
<path d="M82.0 136.3H86.2"/>
<path d="M82.0 200.1H86.2"/>
<path d="M503.2 71.50H507.0"/>
<path d="M503.2 101.77H507.0"/>
<path d="M503.2 132.04H507.0"/>
<path d="M503.2 162.31H507.0"/>
<path d="M503.2 192.58H507.0"/>
<path d="M503.2 222.85H507.0"/>
</g>
<text x="77.1" y="60.7" font-size="11.3" text-anchor="end">14</text>
<text x="77.1" y="77.8" font-size="11.3" text-anchor="end">12</text>
<text x="77.1" y="102.8" font-size="11.3" text-anchor="end">10</text>
<text x="77.1" y="140.3" font-size="11.3" text-anchor="end">8</text>
<text x="77.1" y="204.1" font-size="11.3" text-anchor="end">6</text>
<text x="77.1" y="258.3" font-size="11.3" text-anchor="end">5</text>
<text x="92.6" y="267.2" font-size="11.3" text-anchor="middle">1</text>
<text x="284.8" y="267.2" font-size="11.3" text-anchor="middle">10</text>
<text x="304.6" y="267.2" font-size="11.3" text-anchor="middle">11</text>
<text x="496.4" y="267.2" font-size="11.3" text-anchor="middle">20</text>
<text x="249.5" y="284.4" font-size="11.6" textLength="89" lengthAdjust="spacingAndGlyphs">Filter channel no.</text>
<text transform="translate(61.0 200.9) rotate(-90)" font-size="11.6" textLength="90.2" lengthAdjust="spacingAndGlyphs">Wavelength (µm)</text>
<path d="M541 100.4L590 104.6L622.8 106.4L590 107.95L548 108.75L541 108.9Z" fill="url(#gN)"/>
<path d="M541 108.9L548 109.0L600 109.3L689 109.9L600 111.4L560 112.2L541 113Z" fill="url(#gN)"/>
<path d="M541 61.8L543.5 63L545.3 64.4L543.5 65.8L541 67.2Z" fill="#fce2ac"/>
<path d="M541 88L543.6 88.6L547.6 90.2L551.8 93L546.6 95.2L543.6 97.6L542.4 99.6L541 100Z" fill="#fbe0a0"/>
<path d="M541 112.6L543.2 113.5L543 121.5L541 122Z" fill="#fce6b4"/>
<path d="M541 122L560 124.2L585 126.8L602 128.5L590 130L572 131.2L556.7 132.4L546.4 134.7L543 136.5L541 137Z" fill="url(#gM2)"/>
<path d="M541 159L553.6 161.2L557.7 164.8L560.4 167.5L558.4 168.9L565 170.9L556.3 173.6L548.2 175.7L543.5 179L542.2 187L541 190.5Z" fill="url(#gM3)"/>
<path d="M541 148.2L545 149.6L550 151.3L560 154L575 155.7L590 157L598.4 157.7L590 158.7L570 159.5L553.6 161.4L541 161.6Z" fill="url(#gM2)"/>
<path d="M541 202.6L543.5 204.8L547.7 207.3L559.3 209.2L590.5 211.2L641 212.8L664.4 212.8L660.5 213.5L672.4 214.5L641 215.6L590.5 217L559 218L547 219L541 220.4Z" fill="url(#gM)"/>
<path d="M541 136.4L549 138L553 143L552 150L548 155L544 158.5L541 159Z" fill="#b8e6b8" fill-opacity="0.3"/>
<path d="M541 136.6L556 138L541 139.5Z" fill="url(#gG)" fill-opacity="0.3"/>
<path d="M541 140.4L596 142L541 143.3Z" fill="url(#gG)" fill-opacity="0.6"/>
<path d="M541 143.8L600 144.8L541 145.8Z" fill="url(#gG)" fill-opacity="0.4"/>
<path d="M541 146.4L641 147.7L541 149.0Z" fill="url(#gG)" fill-opacity="0.9"/>
<path d="M541 149.8L582 150.8L541 152Z" fill="url(#gG)" fill-opacity="0.3"/>
<path d="M541 152.6L632 153.5L541 154.6Z" fill="url(#gG)" fill-opacity="0.65"/>
<path d="M541 154.6L600 155L541 156Z" fill="url(#gG)" fill-opacity="0.35"/>
<path d="M541 55.6L566 56.2L541 56.9Z" fill="url(#gC)"/>
<path d="M541 58.1L557 58.5L541 59.0Z" fill="url(#gC)" fill-opacity="0.55"/>
<g stroke="#2a2a2a" stroke-width="1.5" fill="none">
<path d="M540.4 51V253.4"/>
<path d="M539.7 252.7H696"/>
</g>
<path d="M540.4 44.0L543.1 52.8L540.4 51.6L537.7 52.8Z" fill="#2a2a2a"/>
<path d="M702.8 252.7L694.0 255.4L695.2 252.7L694.0 250.0Z" fill="#2a2a2a"/>
<g stroke="#111" stroke-width="1.1">
<path d="M541 71.50H544"/>
<path d="M541 101.77H544"/>
<path d="M541 132.04H544"/>
<path d="M541 162.31H544"/>
<path d="M541 192.58H544"/>
<path d="M541 222.85H544"/>
<path d="M590.5 252.5V249.4"/>
<path d="M640.5 252.5V249.4"/>
<path d="M690.5 252.5V249.4"/>
</g>
<text x="703.8" y="75.5" font-size="11.3">800</text>
<text x="703.8" y="105.8" font-size="11.3">1000</text>
<text x="703.8" y="136.0" font-size="11.3">1200</text>
<text x="703.8" y="166.3" font-size="11.3">1400</text>
<text x="703.8" y="196.6" font-size="11.3">1600</text>
<text x="703.8" y="226.8" font-size="11.3">1800</text>
<text x="540.3" y="267.6" font-size="11.3" text-anchor="middle">0</text>
<text x="590.4" y="267.6" font-size="11.3" text-anchor="middle">2</text>
<text x="640.4" y="267.6" font-size="11.3" text-anchor="middle">4</text>
<text x="690.4" y="267.6" font-size="11.3" text-anchor="middle">6</text>
<text transform="translate(749.0 200.8) rotate(-90)" font-size="11.6" textLength="105.3" lengthAdjust="spacingAndGlyphs">Wavenumber (cm<tspan font-size="7.6" dy="-4.2">−1</tspan><tspan dy="4.2">)</tspan></text>
<text x="564.2" y="288.4" font-size="11.6" textLength="114.4" lengthAdjust="spacingAndGlyphs">(×10<tspan font-size="7.6" dy="-4.2">−19</tspan><tspan dy="4.2"> cm</tspan><tspan font-size="7.6" dy="-4.2">2</tspan><tspan dy="4.2">/molecule)</tspan></text>
<text x="567.5" y="65.7" font-size="9.8" style="stroke-width:0.06px">CO<tspan font-size="7.2" dy="3.3">2</tspan></text>
<text x="660.7" y="122.6" font-size="9.7" style="stroke-width:0.06px" textLength="19.4" lengthAdjust="spacingAndGlyphs">NH3</text>
<text x="664.4" y="157.7" font-size="9.7" style="stroke-width:0.06px" textLength="19.3" lengthAdjust="spacingAndGlyphs">CH4</text>
<text x="661.5" y="204.7" font-size="9.7" style="stroke-width:0.06px" textLength="20.6" lengthAdjust="spacingAndGlyphs">MEK</text>
</svg>
</body></html>
